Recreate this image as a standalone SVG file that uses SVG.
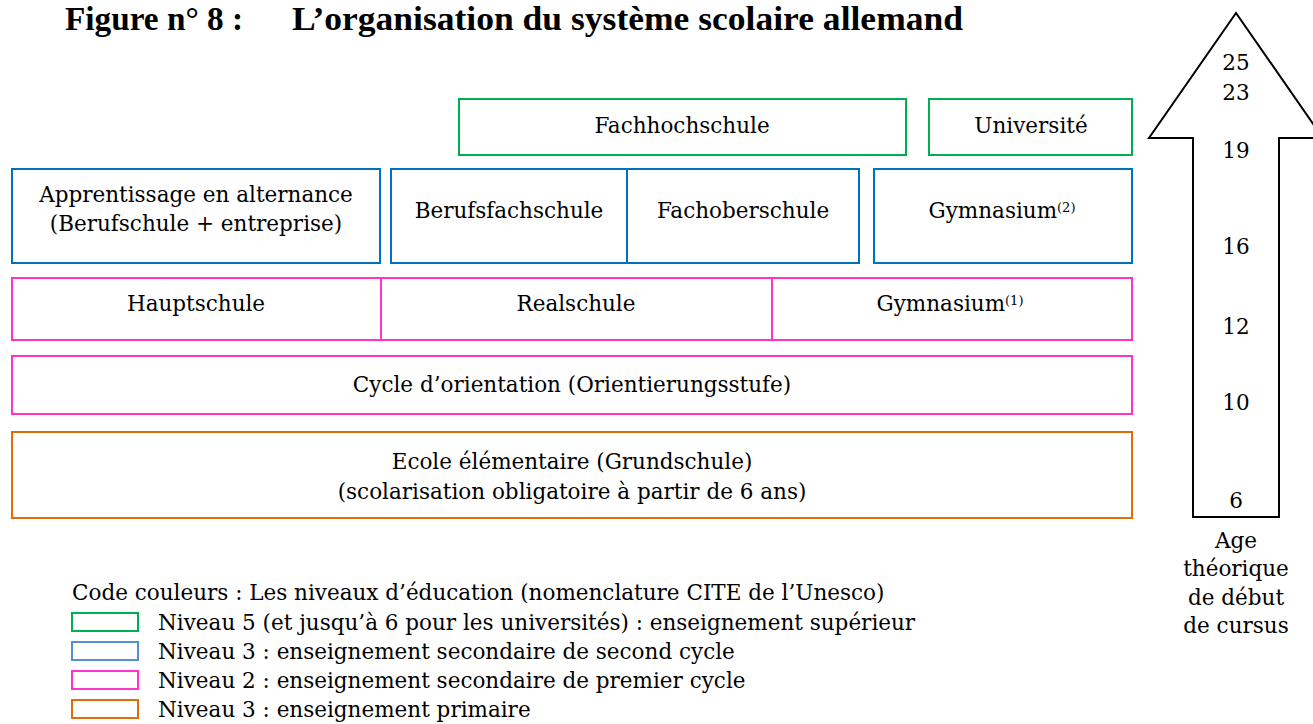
<svg xmlns="http://www.w3.org/2000/svg" width="1313" height="724" viewBox="0 0 1313 724">
<style>
text{font-family:"DejaVu Serif","Liberation Serif",serif;font-size:21.5px;fill:#000}
.t{text-anchor:middle}
.title{font-family:"Liberation Serif",serif;font-weight:bold;font-size:33px}
.g{fill:none;stroke:#00B050;stroke-width:2}
.b{fill:none;stroke:#0070C0;stroke-width:2}
.p{fill:none;stroke:#FF33CC;stroke-width:2}
.o{fill:none;stroke:#E36C0A;stroke-width:2}
.sup{font-size:13px}
.lg{fill:none;stroke-width:2}
</style>
<rect width="1313" height="724" fill="#fff"/>
<g id="title">
<text class="title" x="65" y="30" textLength="178" lengthAdjust="spacingAndGlyphs">Figure n° 8 :</text>
<text class="title" x="292" y="30" textLength="671" lengthAdjust="spacingAndGlyphs">L’organisation du système scolaire allemand</text>
</g>
<g id="fachhochschule"><rect class="g" x="459" y="99" width="447" height="56"/><text class="t" x="682" y="133">Fachhochschule</text></g>
<g id="universite"><rect class="g" x="929" y="99" width="203" height="56"/><text class="t" x="1031" y="133">Université</text></g>
<g id="apprentissage"><rect class="b" x="12" y="169" width="368" height="94"/><text class="t" x="196" y="202">Apprentissage en alternance</text><text class="t" x="196" y="231">(Berufschule + entreprise)</text></g>
<g id="berufsfachschule"><rect class="b" x="391" y="169" width="236" height="94"/><text class="t" x="509" y="218">Berufsfachschule</text></g>
<g id="fachoberschule"><rect class="b" x="627" y="169" width="232" height="94"/><text class="t" x="743" y="218">Fachoberschule</text></g>
<g id="gymnasium2"><rect class="b" x="874" y="169" width="258" height="94"/><text class="t" x="1002" y="218">Gymnasium<tspan class="sup" dy="-6">(2)</tspan></text></g>
<g id="hauptschule"><rect class="p" x="12" y="278" width="369" height="62"/><text class="t" x="196" y="311">Hauptschule</text></g>
<g id="realschule"><rect class="p" x="381" y="278" width="391" height="62"/><text class="t" x="576" y="311">Realschule</text></g>
<g id="gymnasium1"><rect class="p" x="772" y="278" width="360" height="62"/><text class="t" x="950" y="311">Gymnasium<tspan class="sup" dy="-6">(1)</tspan></text></g>
<g id="cycle"><rect class="p" x="12" y="356" width="1120" height="58"/><text class="t" x="572" y="392">Cycle d’orientation (Orientierungsstufe)</text></g>
<g id="ecole"><rect class="o" x="12" y="432" width="1120" height="86"/><text class="t" x="572" y="469">Ecole élémentaire (Grundschule)</text><text class="t" x="572" y="499">(scolarisation obligatoire à partir de 6 ans)</text></g>
<g id="arrow">
<polygon points="1236,13 1149,138 1193,138 1193,517 1279,517 1279,138 1323,138" fill="#fff" stroke="#000" stroke-width="2"/>
<text class="t" x="1236" y="70">25</text>
<text class="t" x="1236" y="100">23</text>
<text class="t" x="1236" y="158">19</text>
<text class="t" x="1236" y="254">16</text>
<text class="t" x="1236" y="334">12</text>
<text class="t" x="1236" y="410">10</text>
<text class="t" x="1236" y="508">6</text>
<text class="t" x="1236" y="548">Age</text>
<text class="t" x="1236" y="576">théorique</text>
<text class="t" x="1236" y="605">de début</text>
<text class="t" x="1236" y="633">de cursus</text>
</g>
<g id="legend">
<text x="72" y="600">Code couleurs : Les niveaux d’éducation (nomenclature CITE de l’Unesco)</text>
<rect class="lg" x="72" y="613" width="66" height="18" stroke="#00B050"/>
<text x="158" y="630">Niveau 5 (et jusqu’à 6 pour les universités) : enseignement supérieur</text>
<rect class="lg" x="72" y="642" width="66" height="18" stroke="#558ED5"/>
<text x="158" y="659">Niveau 3 : enseignement secondaire de second cycle</text>
<rect class="lg" x="72" y="671" width="66" height="18" stroke="#FF33CC"/>
<text x="158" y="688">Niveau 2 : enseignement secondaire de premier cycle</text>
<rect class="lg" x="72" y="700" width="66" height="18" stroke="#E36C0A"/>
<text x="158" y="717">Niveau 3 : enseignement primaire</text>
</g>
</svg>
